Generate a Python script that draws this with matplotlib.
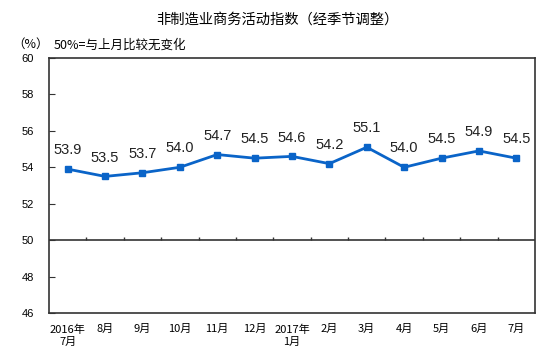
import matplotlib
matplotlib.use("Agg")
import matplotlib.pyplot as plt
import matplotlib.transforms as mtransforms

plt.rcParams["font.family"] = ["Noto Sans CJK SC", "DejaVu Sans"]

# --- data -------------------------------------------------------------------
months = ["2016年\n7月", "8月", "9月", "10月", "11月", "12月", "2017年\n1月",
          "2月", "3月", "4月", "5月", "6月", "7月"]
values = [53.9, 53.5, 53.7, 54.0, 54.7, 54.5, 54.6, 54.2, 55.1, 54.0, 54.5, 54.9, 54.5]
y_ticks = [46, 48, 50, 52, 54, 56, 58, 60]

LINE_BLUE = "#0a64c8"
AXIS_GREY = "#333333"

fig = plt.figure(figsize=(5.54, 3.57), dpi=100)
fig.patch.set_facecolor("white")
ax = fig.add_axes([0.0884, 0.1232, 0.8773, 0.7143])

x = list(range(len(values)))
ax.plot(x, values, color=LINE_BLUE, lw=2, marker="s", ms=5, zorder=3)

for xi, v in zip(x, values):
    ax.annotate(f"{v:.1f}", (xi, v), xytext=(0, 8.5), textcoords="offset points",
                ha="center", va="bottom", fontsize=10.5,
                family="Liberation Sans", color="#222222")

ax.set_xlim(-0.5, len(values) - 0.5)
ax.set_ylim(46, 60)

# 50% reference line with small upward ticks between months
ax.axhline(50, color=AXIS_GREY, lw=1.2, zorder=2)
blend = mtransforms.blended_transform_factory(ax.transData, ax.transData)
ax.vlines([k + 0.5 for k in range(len(values) - 1)], 50, 50.2,
          color=AXIS_GREY, lw=1, transform=blend)

ax.set_xticks(x)
ax.set_xticklabels(months, fontsize=8, linespacing=1.3)
ax.tick_params(axis="x", length=0, pad=8)

ax.set_yticks(y_ticks)
ax.set_yticklabels([str(t) for t in y_ticks], fontsize=8, family="Liberation Sans")
ax.tick_params(axis="y", direction="in", length=4, pad=11, color=AXIS_GREY)

for side in ["left", "right", "top", "bottom"]:
    ax.spines[side].set_color(AXIS_GREY)
    ax.spines[side].set_linewidth(1.2)

fig.text(0.5, 0.944, "非制造业商务活动指数（经季节调整）", ha="center", va="center",
         fontsize=10.3)
fig.text(0.022, 0.877, "（%）", ha="left", va="center", fontsize=9)
fig.text(0.097, 0.872, "50%=与上月比较无变化", ha="left", va="center", fontsize=9)

fig.savefig("out.png", dpi=100, facecolor="white")
plt.close(fig)
